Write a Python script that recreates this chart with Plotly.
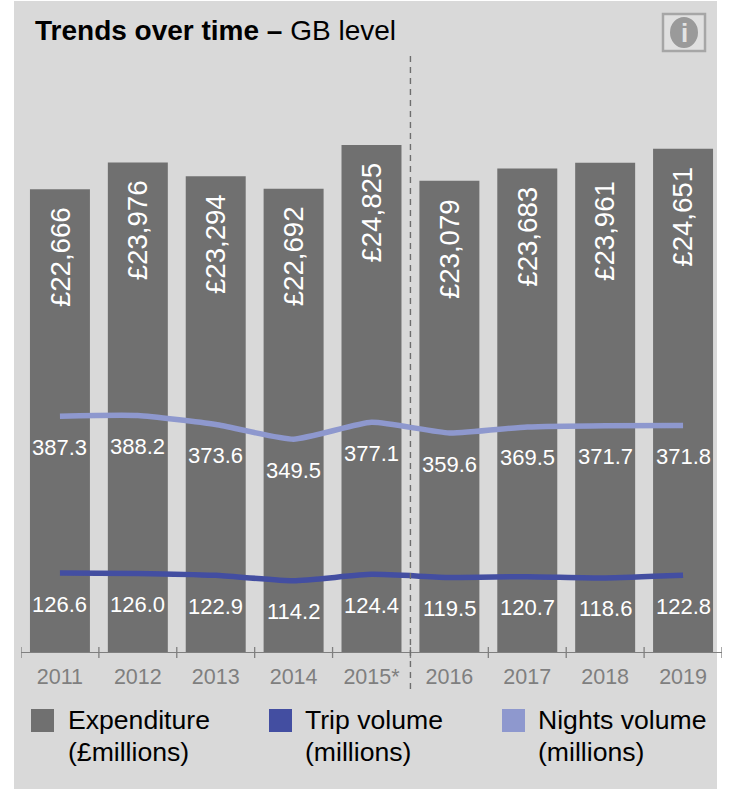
import plotly.graph_objects as go

categories = ["2011", "2012", "2013", "2014", "2015*", "2016", "2017", "2018", "2019"]
expenditure = [22666, 23976, 23294, 22692, 24825, 23079, 23683, 23961, 24651]
trips = [126.6, 126.0, 122.9, 114.2, 124.4, 119.5, 120.7, 118.6, 122.8]
nights = [387.3, 388.2, 373.6, 349.5, 377.1, 359.6, 369.5, 371.7, 371.8]
exp_labels = ["£22,666", "£23,976", "£23,294", "£22,692", "£24,825", "£23,079", "£23,683", "£23,961", "£24,651"]

W, H = 730, 789
L, R, T, B = 21, 8, 40, 137
PW, PH = W - L - R, H - T - B
FONT = "Liberation Sans, Arial, sans-serif"
GREY, TRIP, NIGHT = "#707070", "#434EA1", "#8E98CE"
PANEL = "#D9D9D9"

def px(x): return (x - L) / PW
def py(y): return (H - B - y) / PH

fig = go.Figure()
fig.add_bar(x=list(range(9)), y=expenditure, marker=dict(color=GREY, line_width=0), width=0.77,
            showlegend=False, hoverinfo="skip")
for vals, col, ax in ((nights, NIGHT, "y2"), (trips, TRIP, "y3")):
    fig.add_scatter(x=list(range(9)), y=vals, mode="lines", yaxis=ax, showlegend=False,
                    line=dict(color=col, width=5.5, shape="spline", smoothing=0.5), hoverinfo="skip")

ann = []
for i in range(9):
    ann.append(dict(x=i, y=expenditure[i], xref="x", yref="y", text=exp_labels[i], textangle=-90,
                    showarrow=False, xanchor="center", yanchor="top", yshift=-16,
                    font=dict(family=FONT, size=27.6, color="white")))
    for v, ax in ((nights[i], "y2"), (trips[i], "y3")):
        ann.append(dict(x=i, y=v, xref="x", yref=ax, text=f"{v:.1f}", showarrow=False,
                        xanchor="center", yanchor="middle", yshift=-31,
                        font=dict(family=FONT, size=22, color="white")))

def note(x, y, text, size=26.6, color="black", anchor="left"):
    ann.append(dict(x=px(x), y=py(y), xref="paper", yref="paper", text=text, showarrow=False,
                    xanchor=anchor, yanchor="middle", xshift=-2 if anchor == "left" else 0,
                    font=dict(family=FONT, size=size, color=color)))

note(35, 30, "<b>Trends over time –</b> GB level", size=28)
legend_items = [(31, 68, GREY, "Expenditure", "(£millions)"),
                (269, 305, TRIP, "Trip volume", "(millions)"),
                (502, 538, NIGHT, "Nights volume", "(millions)")]
shapes = [dict(type="rect", xref="paper", yref="paper", x0=px(14), x1=px(717), y0=py(789), y1=py(1),
               fillcolor=PANEL, line_width=0, layer="below")]
for sx, tx, col, a, b in legend_items:
    shapes.append(dict(type="rect", xref="paper", yref="paper", x0=px(sx), x1=px(sx + 23), y0=py(732), y1=py(709),
                       fillcolor=col, line_width=0))
    note(tx, 720, a)
    note(tx, 752, b)

# tick marks crossing the baseline
for i in range(10):
    shapes.append(dict(type="line", xref="x", yref="paper", x0=i - 0.5, x1=i - 0.5, y0=py(658), y1=py(647),
                       line=dict(color="#7F7F7F", width=1.3)))
# dashed separator
shapes.append(dict(type="line", xref="x", yref="paper", x0=4.5, x1=4.5, y0=py(689), y1=py(53),
                   line=dict(color="#6E6E6E", width=1.4, dash="6px,5px")))
# info icon
shapes.append(dict(type="rect", xref="paper", yref="paper", x0=px(663), x1=px(705), y0=py(51), y1=py(14),
                   fillcolor="#E0E0E0", line=dict(color="#A6A6A6", width=2.5)))
shapes.append(dict(type="circle", xref="paper", yref="paper", x0=px(670), x1=px(698), y0=py(48), y1=py(17),
                   fillcolor="#9A9A9A", line_width=0))
note(684, 33, "<b>i</b>", size=26, color="#E4E4E4", anchor="center")

fig.update_layout(
    width=W, height=H, margin=dict(l=L, r=R, t=T, b=B), paper_bgcolor="white", plot_bgcolor="rgba(0,0,0,0)",
    bargap=0.23, annotations=ann, shapes=shapes, showlegend=False,
    xaxis=dict(tickmode="array", tickvals=list(range(9)), ticktext=categories, range=[-0.5, 8.5],
               showgrid=False, zeroline=False, showline=True, linecolor="#7F7F7F", linewidth=1.3, ticks="",
               ticklabelstandoff=5, tickfont=dict(family=FONT, size=21.5, color="#7F7F7F")),
    yaxis=dict(range=[0, PH / 0.02042], visible=False, showgrid=False, zeroline=False),
    yaxis2=dict(range=[0, PH / 0.609], overlaying="y", side="right", visible=False, showgrid=False, zeroline=False),
    yaxis3=dict(range=[0, PH / 0.624], overlaying="y", side="right", visible=False, showgrid=False, zeroline=False),
)
fig.write_html("out.html", post_script="document.body.style.margin='0';", config={"displayModeBar": False})
